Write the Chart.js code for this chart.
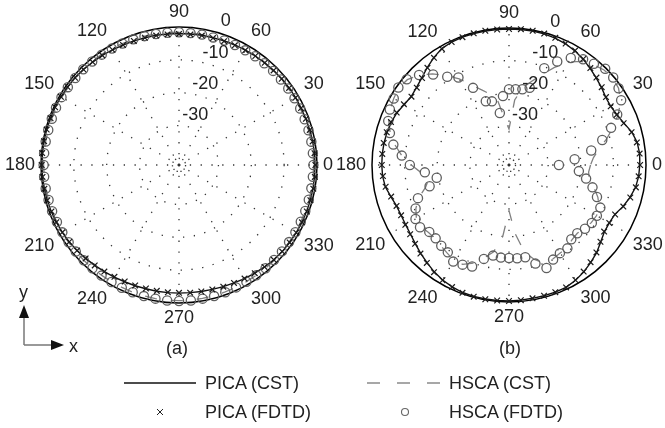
<!DOCTYPE html>
<html>
<head>
<meta charset="utf-8">
<script src="https://cdn.jsdelivr.net/npm/chart.js@4.4.1/dist/chart.umd.min.js"></script>
<style>
  html, body { margin: 0; padding: 0; background: #fff; }
  #page { position: relative; width: 665px; height: 428px; overflow: hidden; font-family: "Liberation Sans", Arial, sans-serif; font-size: 18px; color: #222; }
  #page canvas { position: absolute; top: 0; }
  .txt { position: absolute; white-space: nowrap; line-height: 18px; }
  svg { position: absolute; left: 0; top: 0; }
</style>
</head>
<body>
<div id="page">
  <canvas id="chart-a" width="358" height="330" style="left:0"></canvas>
  <canvas id="chart-b" width="358" height="330" style="left:330px"></canvas>

  <svg width="665" height="428">
    <!-- y / x orientation glyph -->
    <line x1="24" y1="345" x2="24" y2="316" stroke="#777" stroke-width="1.5"/>
    <polygon points="24,305 19,318 29,318" fill="#111"/>
    <line x1="24" y1="345" x2="52" y2="345" stroke="#777" stroke-width="1.5"/>
    <polygon points="64,345 51,340 51,350" fill="#111"/>
    <!-- legend samples -->
    <line x1="124" y1="383" x2="196" y2="383" stroke="#111" stroke-width="1.3"/>
    <line x1="367" y1="383" x2="440" y2="383" stroke="#8a8a8a" stroke-width="1.3" stroke-dasharray="13 17"/>
    <path d="M157,409 L163,415 M163,409 L157,415" stroke="#222" stroke-width="1"/>
    <circle cx="405" cy="412" r="3.5" fill="none" stroke="#666" stroke-width="1.1"/>
  </svg>

  <div class="txt" style="left:19px;top:283px">y</div>
  <div class="txt" style="left:69px;top:337px">x</div>
  <div class="txt" style="left:166px;top:339px">(a)</div>
  <div class="txt" style="left:499px;top:339px">(b)</div>
  <div class="txt" style="left:205px;top:374px">PICA (CST)</div>
  <div class="txt" style="left:449px;top:374px">HSCA (CST)</div>
  <div class="txt" style="left:205px;top:403px">PICA (FDTD)</div>
  <div class="txt" style="left:449px;top:403px">HSCA (FDTD)</div>
</div>

<script>
// angles in degrees, 5 degree steps starting at 0 (east), counter-clockwise
// every series below is listed from 0 to 355 degrees, 12 values per line (60 degrees)
const angleLabels = [0, 30, 60, 90, 120, 150, 180, 210, 240, 270, 300, 330];
const ringValues = [-40, -30, -20, -10, 0];
const tickLabels = ['0', '-10', '-20', '-30'];
const tickValues = [0, -10, -20, -30];

// (a)
const picaCstA = [
  -0.6, -0.6, -0.7, -0.8, -0.9, -1.0, -1.0, -1.1, -1.2, -1.3, -1.4, -1.5,
  -1.6, -1.7, -1.8, -1.9, -1.9, -2.0, -2.0, -2.0, -1.9, -1.9, -1.8, -1.7,
  -1.5, -1.3, -1.1, -0.9, -0.7, -0.6, -0.5, -0.4, -0.4, -0.3, -0.3, -0.3,
  -0.3, -0.3, -0.4, -0.5, -0.6, -0.8, -1.0, -1.2, -1.5, -1.8, -2.1, -2.4,
  -2.6, -2.8, -2.9, -3.0, -3.0, -3.0, -3.0, -3.0, -2.9, -2.8, -2.6, -2.4,
  -2.1, -1.8, -1.5, -1.2, -1.0, -0.9, -0.8, -0.7, -0.7, -0.6, -0.6, -0.6
];
const hscaCstA = [
  -1.0, -1.0, -1.1, -1.2, -1.2, -1.3, -1.3, -1.4, -1.4, -1.5, -1.5, -1.6,
  -1.6, -1.7, -1.7, -1.7, -1.7, -1.6, -1.6, -1.6, -1.5, -1.4, -1.3, -1.2,
  -1.0, -0.9, -0.8, -0.8, -0.8, -0.8, -0.8, -0.8, -0.8, -0.8, -0.8, -0.8,
  -0.8, -0.8, -0.8, -0.9, -0.9, -1.0, -1.0, -1.0, -1.0, -1.0, -1.0, -1.0,
  -0.9, -0.9, -0.8, -0.8, -0.7, -0.7, -0.7, -0.7, -0.8, -0.8, -0.9, -0.9,
  -1.0, -1.0, -1.0, -1.0, -1.0, -1.1, -1.1, -1.1, -1.1, -1.0, -1.0, -1.0
];
const picaFdtdA = [
  -0.5, -0.6, -0.7, -0.8, -0.9, -1.0, -1.1, -1.1, -1.2, -1.3, -1.4, -1.5,
  -1.7, -1.8, -1.9, -2.0, -2.0, -2.1, -2.1, -2.1, -2.0, -1.9, -1.8, -1.7,
  -1.5, -1.3, -1.1, -0.9, -0.7, -0.6, -0.5, -0.4, -0.4, -0.3, -0.3, -0.2,
  -0.2, -0.3, -0.4, -0.5, -0.7, -0.8, -1.0, -1.2, -1.5, -1.8, -2.1, -2.4,
  -2.7, -2.9, -3.0, -3.1, -3.1, -3.1, -3.1, -3.0, -2.9, -2.8, -2.6, -2.4,
  -2.1, -1.8, -1.5, -1.2, -1.0, -0.9, -0.8, -0.7, -0.6, -0.6, -0.5, -0.5
];
const hscaFdtdA = [
  -1.1, -1.1, -1.1, -1.2, -1.3, -1.3, -1.4, -1.4, -1.5, -1.5, -1.6, -1.6,
  -1.7, -1.7, -1.7, -1.8, -1.7, -1.7, -1.6, -1.6, -1.5, -1.4, -1.3, -1.2,
  -1.1, -1.0, -0.9, -0.8, -0.8, -0.7, -0.7, -0.7, -0.8, -0.8, -0.8, -0.8,
  -0.8, -0.8, -0.8, -0.9, -0.9, -1.0, -1.0, -1.0, -1.0, -1.0, -1.0, -0.9,
  -0.9, -0.8, -0.8, -0.7, -0.7, -0.6, -0.6, -0.6, -0.7, -0.7, -0.8, -0.9,
  -1.0, -1.0, -1.0, -1.1, -1.1, -1.1, -1.1, -1.1, -1.1, -1.1, -1.1, -1.1
];

// (b)
const picaCstB = [
  -1.9, -1.8, -2.1, -3.0, -4.5, -5.5, -6.0, -5.8, -5.0, -4.2, -3.3, -2.4,
  -1.6, -1.0, -0.6, -0.4, -0.3, -0.3, -0.3, -0.3, -0.3, -0.3, -0.3, -0.4,
  -0.8, -1.8, -3.0, -4.2, -5.0, -5.4, -4.9, -4.1, -3.6, -3.3, -3.1, -3.0,
  -3.0, -3.1, -3.5, -4.5, -5.3, -5.5, -5.4, -5.1, -4.5, -3.7, -2.9, -2.0,
  -1.3, -0.8, -0.4, -0.3, -0.3, -0.3, -0.3, -0.4, -0.5, -0.5, -0.5, -0.6,
  -1.2, -2.0, -3.0, -4.0, -5.3, -6.3, -6.5, -6.2, -4.8, -3.6, -2.6, -2.1
];
const hscaCstB = [
  -17.0, -16.0, -14.0, -11.0, -8.0, -5.0, -2.5, -1.0, -0.5, -0.8, -1.8, -3.2,
  -5.5, -9.0, -12.5, -15.5, -18.0, -22.0, -31.0, -28.0, -22.0, -19.5, -17.5, -15.0,
  -11.5, -8.5, -5.5, -3.0, -1.3, -0.8, -1.2, -1.8, -2.8, -4.3, -6.5, -9.0,
  -12.0, -15.0, -17.0, -15.5, -12.5, -10.5, -9.2, -9.0, -9.8, -10.0, -9.6, -9.0,
  -8.2, -8.4, -10.0, -12.5, -15.0, -20.0, -28.0, -21.0, -15.0, -12.0, -10.0, -10.2,
  -10.8, -11.0, -12.0, -12.4, -11.8, -11.2, -11.0, -11.5, -13.0, -15.0, -17.0, -17.5
];
const picaFdtdB = [
  -1.8, -1.8, -2.2, -3.1, -4.6, -5.6, -6.0, -5.7, -4.9, -4.1, -3.2, -2.3,
  -1.5, -0.9, -0.5, -0.3, -0.2, -0.2, -0.3, -0.3, -0.2, -0.2, -0.3, -0.4,
  -0.9, -1.9, -3.1, -4.3, -5.1, -5.5, -4.8, -4.0, -3.5, -3.2, -3.0, -3.0,
  -3.0, -3.2, -3.6, -4.6, -5.3, -5.5, -5.3, -5.0, -4.4, -3.6, -2.8, -1.9,
  -1.2, -0.7, -0.3, -0.2, -0.2, -0.3, -0.3, -0.4, -0.5, -0.5, -0.5, -0.6,
  -1.3, -2.1, -3.1, -4.1, -5.4, -6.4, -6.5, -6.1, -4.7, -3.5, -2.5, -2.1
];
const hscaFdtdB = [
  -26.7, -21.8, -16.4, -12.4, -8.7, -5.4, -2.3, -1.0, -0.3, -0.3, -1.5, -2.4,
  -4.1, -7.0, -10.4, -17.5, -18.4, -18.7, -18.8, -20.8, -25.8, -21.8, -21.2, -15.9,
  -11.0, -9.0, -5.8, -3.0, -1.1, -0.6, -1.2, -1.7, -2.6, -4.2, -6.0, -9.0,
  -11.6, -16.1, -19.5, -16.8, -12.3, -10.4, -8.9, -8.7, -10.1, -10.2, -9.7, -9.3,
  -7.8, -8.3, -8.9, -12.2, -13.8, -13.5, -13.5, -13.3, -13.3, -10.7, -8.4, -10.0,
  -10.8, -10.8, -12.3, -12.4, -11.6, -11.0, -10.9, -11.1, -13.3, -15.5, -18.0, -20.5
];

// radar goes clockwise from startAngle, so list the angles 0, 355, 350 ... 5
const radarAngles = [];
for (let i = 0; i < 72; i++) radarAngles.push((360 - i * 5) % 360);
const toRadar = arr => radarAngles.map(a => arr[a / 5]);

const FONT = '18px "Liberation Sans", Arial, sans-serif';

const polarText = {
  id: 'polarText',
  afterDraw(chart) {
    const r = chart.scales.r;
    const ctx = chart.ctx;
    ctx.save();
    ctx.font = FONT;
    ctx.fillStyle = '#222';

    angleLabels.forEach(deg => {
      const idx = radarAngles.indexOf(deg);
      const pos = r.getPointPosition(idx, r.drawingArea + 6);
      const c = Math.cos(deg * Math.PI / 180);
      const s = Math.sin(deg * Math.PI / 180);
      ctx.textAlign = Math.abs(c) < 0.01 ? 'center' : (c > 0 ? 'left' : 'right');
      ctx.textBaseline = Math.abs(s) < 0.01 ? 'middle' : (s > 0 ? 'bottom' : 'top');
      ctx.fillText(String(deg), pos.x, pos.y);
    });

    // dB labels sit along a spoke at about 72 degrees
    const a = 72 * Math.PI / 180;
    ctx.textAlign = 'center';
    ctx.textBaseline = 'middle';
    tickValues.forEach((v, i) => {
      const d = r.getDistanceFromCenterForValue(v) + 13;
      ctx.fillText(tickLabels[i], r.xCenter + d * Math.cos(a), r.yCenter - d * Math.sin(a));
    });
    ctx.restore();
  }
};

function makeChart(id, picaCst, hscaCst, picaFdtd, hscaFdtd, pad) {
  return new Chart(document.getElementById(id), {
    type: 'radar',
    data: {
      labels: radarAngles,
      datasets: [
        {
          label: 'PICA (FDTD)',
          data: toRadar(picaFdtd),
          showLine: false,
          pointStyle: 'crossRot',
          pointRadius: 4,
          pointBorderColor: '#1a1a1a',
          pointBorderWidth: 1.2,
          backgroundColor: 'transparent'
        },
        {
          label: 'HSCA (FDTD)',
          data: toRadar(hscaFdtd),
          showLine: false,
          pointStyle: 'circle',
          pointRadius: 4.6,
          pointBorderColor: '#5e5e5e',
          pointBackgroundColor: 'transparent',
          pointBorderWidth: 1.3,
          backgroundColor: 'transparent'
        },
        {
          label: 'PICA (CST)',
          data: toRadar(picaCst),
          borderColor: '#111',
          borderWidth: 1.4,
          pointRadius: 0,
          fill: false
        },
        {
          label: 'HSCA (CST)',
          data: toRadar(hscaCst),
          borderColor: '#808080',
          borderWidth: 1.3,
          borderDash: [12, 14],
          pointRadius: 0,
          fill: false
        }
      ]
    },
    options: {
      responsive: false,
      animation: false,
      layout: { padding: { left: 179 - pad, right: 179 - pad, top: 165 - pad, bottom: 165 - pad } },
      scales: {
        r: {
          min: -42,
          max: 0,
          startAngle: 90,
          afterBuildTicks: scale => {
            scale.ticks = ringValues.map(v => ({ value: v }));
          },
          ticks: { display: false },
          pointLabels: { display: false },
          grid: {
            circular: true,
            color: c => (c.tick.value === 0 ? '#000' : '#333'),
            lineWidth: c => (c.tick.value === 0 ? 1.5 : 1.3)
          },
          border: {
            dash: c => (c.tick.value === 0 ? [] : (c.tick.value === -40 ? [1.3, 2.5] : [1.3, 9.5]))
          },
          angleLines: {
            color: c => (c.index % 6 === 0 ? '#333' : 'transparent'),
            lineWidth: 1.3,
            borderDash: [1.3, 9.5]
          }
        }
      },
      plugins: {
        legend: { display: false },
        tooltip: { enabled: false }
      }
    },
    plugins: [polarText]
  });
}

makeChart('chart-a', picaCstA, hscaCstA, picaFdtdA, hscaFdtdA, 138);
makeChart('chart-b', picaCstB, hscaCstB, picaFdtdB, hscaFdtdB, 137);
</script>
</body>
</html>
